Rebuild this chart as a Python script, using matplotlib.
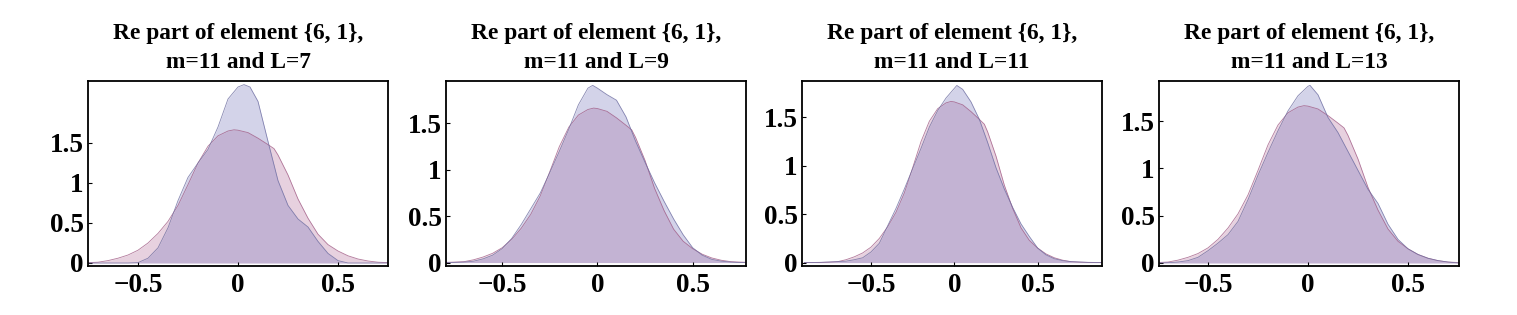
import numpy as np
import matplotlib
matplotlib.use("Agg")
import matplotlib.pyplot as plt

plt.rcParams["font.family"] = ["Liberation Serif", "DejaVu Serif"]
plt.rcParams["font.weight"] = "bold"

# L values of the four panels
L_values = [7, 9, 11, 13]

# reference density (pink), same in every panel
pink_x = [-0.90, -0.85, -0.80, -0.75, -0.70, -0.65, -0.60, -0.55, -0.50, -0.45,
          -0.40, -0.35, -0.30, -0.25, -0.20, -0.15, -0.10, -0.05, -0.02, 0.00,
          0.05, 0.10, 0.15, 0.18, 0.20, 0.25, 0.30, 0.35, 0.40, 0.45,
          0.50, 0.55, 0.60, 0.65, 0.70, 0.75, 0.80, 0.85, 0.90]
pink_y = [0.0, 0.0, 0.002, 0.005, 0.01, 0.03, 0.06, 0.10, 0.16, 0.25,
          0.37, 0.52, 0.72, 0.98, 1.25, 1.46, 1.59, 1.65, 1.665, 1.66,
          1.63, 1.56, 1.48, 1.43, 1.35, 1.10, 0.80, 0.56, 0.36, 0.23,
          0.15, 0.09, 0.05, 0.025, 0.01, 0.005, 0.002, 0.0, 0.0]

# sample density (blue), one per panel
blue_x_7 = [-0.90, -0.60, -0.55, -0.50, -0.45, -0.40, -0.35, -0.30, -0.25, -0.20,
            -0.15, -0.10, -0.05, 0.00, 0.03, 0.06, 0.10, 0.15, 0.20, 0.25,
            0.30, 0.35, 0.40, 0.45, 0.50, 0.55, 0.90]
blue_y_7 = [0.0, 0.0, 0.0, 0.005, 0.06, 0.19, 0.44, 0.78, 1.07, 1.25,
            1.42, 1.70, 2.05, 2.20, 2.23, 2.20, 2.02, 1.52, 1.03, 0.72,
            0.55, 0.45, 0.27, 0.12, 0.03, 0.0, 0.0]

blue_x_9 = [-0.90, -0.80, -0.75, -0.70, -0.65, -0.60, -0.55, -0.50, -0.45, -0.40,
            -0.35, -0.30, -0.25, -0.20, -0.15, -0.10, -0.05, -0.025, 0.00, 0.05,
            0.10, 0.15, 0.20, 0.25, 0.30, 0.35, 0.40, 0.45, 0.50, 0.55,
            0.60, 0.65, 0.70, 0.75, 0.90]
blue_y_9 = [0.0, 0.0, 0.002, 0.005, 0.015, 0.04, 0.08, 0.15, 0.26, 0.41,
            0.58, 0.75, 0.97, 1.20, 1.44, 1.70, 1.88, 1.91, 1.88, 1.81,
            1.75, 1.57, 1.31, 1.08, 0.86, 0.66, 0.47, 0.30, 0.16, 0.08,
            0.035, 0.015, 0.005, 0.0, 0.0]

blue_x_11 = [-0.90, -0.80, -0.70, -0.65, -0.60, -0.55, -0.50, -0.45, -0.40, -0.35,
             -0.30, -0.25, -0.20, -0.15, -0.10, -0.05, 0.00, 0.015, 0.05, 0.10,
             0.15, 0.20, 0.25, 0.30, 0.35, 0.40, 0.45, 0.50, 0.55, 0.60,
             0.65, 0.70, 0.80, 0.90]
blue_y_11 = [0.0, 0.003, 0.01, 0.015, 0.03, 0.05, 0.11, 0.20, 0.38, 0.56,
             0.76, 0.97, 1.18, 1.40, 1.57, 1.70, 1.80, 1.83, 1.79, 1.66,
             1.48, 1.24, 0.98, 0.76, 0.57, 0.40, 0.27, 0.15, 0.08, 0.04,
             0.02, 0.01, 0.003, 0.0]

blue_x_13 = [-0.90, -0.75, -0.70, -0.65, -0.60, -0.55, -0.50, -0.45, -0.40, -0.35,
             -0.30, -0.25, -0.20, -0.15, -0.10, -0.05, 0.00, 0.01, 0.05, 0.10,
             0.15, 0.20, 0.25, 0.30, 0.35, 0.40, 0.45, 0.50, 0.55, 0.60,
             0.65, 0.70, 0.75, 0.90]
blue_y_13 = [0.0, 0.0, 0.003, 0.01, 0.025, 0.06, 0.13, 0.21, 0.30, 0.44,
             0.67, 0.93, 1.17, 1.40, 1.61, 1.77, 1.87, 1.88, 1.78, 1.54,
             1.38, 1.18, 0.98, 0.78, 0.63, 0.41, 0.25, 0.15, 0.09, 0.05,
             0.025, 0.01, 0.0, 0.0]

blue_xs = [blue_x_7, blue_x_9, blue_x_11, blue_x_13]
blue_ys = [blue_y_7, blue_y_9, blue_y_11, blue_y_13]

x_ticks = [-0.5, 0, 0.5]
x_tick_labels = ["\u22120.5", "0", "0.5"]
y_ticks = [0, 0.5, 1, 1.5]
y_tick_labels = ["0", "0.5", "1", "1.5"]

xlims = [(-0.75, 0.75), (-0.795, 0.78), (-0.914, 0.886), (-0.745, 0.755)]
ylims = [(-0.0375, 2.275), (-0.037, 1.957), (-0.035, 1.876), (-0.032, 1.926)]
lefts = [88, 446, 802, 1159]

W, H = 1517, 315
fig = plt.figure(figsize=(W / 100, H / 100), dpi=100)

blue_base = (112 / 255, 112 / 255, 185 / 255)
pink_base = (178 / 255, 105 / 255, 152 / 255)
blue_edge = "#6c6ca0"
pink_edge = "#a05a84"

for i in range(4):
    ax = fig.add_axes([lefts[i] / W, (H - 266) / H, 300 / W, 185 / H])
    ax.fill_between(pink_x, pink_y, 0, color=pink_base, alpha=0.3, linewidth=0)
    ax.fill_between(blue_xs[i], blue_ys[i], 0, color=blue_base, alpha=0.3, linewidth=0)
    ax.plot(pink_x, pink_y, color=pink_edge, lw=0.6, alpha=0.8)
    ax.plot(blue_xs[i], blue_ys[i], color=blue_edge, lw=0.6, alpha=0.8)

    ax.set_xlim(*xlims[i])
    ax.set_ylim(*ylims[i])
    ax.set_xticks(x_ticks)
    ax.set_xticklabels(x_tick_labels)
    ax.set_yticks(y_ticks)
    ax.set_yticklabels(y_tick_labels)
    ax.tick_params(direction="in", length=3, width=0.8, labelsize=19.5, pad=3)
    ax.tick_params(axis="x", pad=5)
    for lab in ax.get_xticklabels() + ax.get_yticklabels():
        lab.set_fontweight("bold")
    for s in ax.spines.values():
        s.set_linewidth(1.3)

    ax.set_title("Re part of element {6, 1},\nm=11 and L=%d" % L_values[i],
                 fontsize=16.8, fontweight="bold", linespacing=1.55, pad=9)

fig.savefig("out.png", dpi=100)
